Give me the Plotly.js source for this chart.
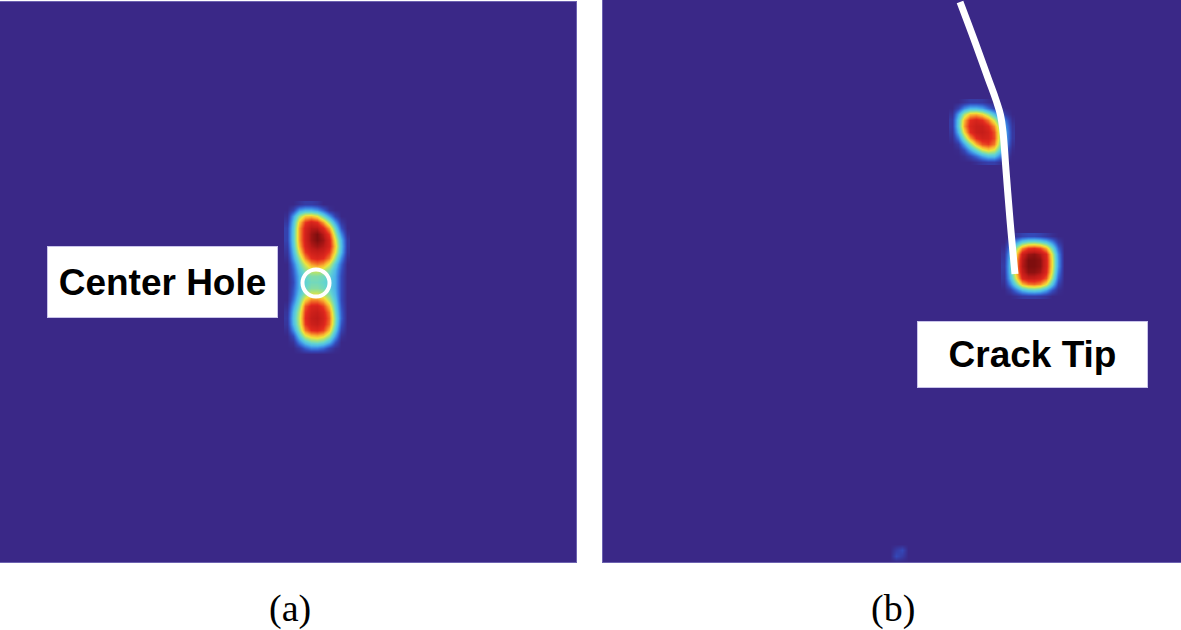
<!DOCTYPE html>
<html>
<head>
<meta charset="utf-8">
<script src="https://cdn.plot.ly/plotly-3.0.1.min.js"></script>
<style>html,body{margin:0;padding:0;background:#fff;}#chart{width:1181px;height:630px;}</style>
</head>
<body>
<div id="chart"></div>
<script>
// ---- Panel (a): centre-hole hotspot field (image pixel coordinates) ----
const aX = [287, 293, 299, 305, 311, 317, 323, 329, 335, 341, 347];
const aY = [204, 210, 216, 222, 228, 234, 240, 246, 252, 258, 264, 270, 276, 282, 288, 294, 300, 306, 312, 318, 324, 330, 336, 342, 348, 354];
const aZ = [
  [0, 0, 0.03, 0.06, 0.06, 0.04, 0, 0, 0, 0, 0],
  [0, 0.08, 0.25, 0.3, 0.3, 0.25, 0.15, 0.03, 0, 0, 0],
  [0.02, 0.25, 0.48, 0.62, 0.64, 0.58, 0.42, 0.25, 0.08, 0, 0],
  [0.05, 0.32, 0.62, 0.8, 0.86, 0.82, 0.68, 0.48, 0.25, 0.05, 0],
  [0.08, 0.35, 0.68, 0.86, 0.93, 0.93, 0.84, 0.68, 0.4, 0.12, 0],
  [0.08, 0.36, 0.68, 0.87, 0.96, 1.0, 0.93, 0.8, 0.5, 0.22, 0.02],
  [0.08, 0.36, 0.68, 0.87, 0.96, 1.0, 0.96, 0.86, 0.58, 0.3, 0.05],
  [0.06, 0.34, 0.65, 0.85, 0.93, 0.96, 0.93, 0.86, 0.62, 0.32, 0.05],
  [0.04, 0.3, 0.58, 0.8, 0.88, 0.9, 0.88, 0.8, 0.58, 0.3, 0.04],
  [0.02, 0.25, 0.48, 0.7, 0.82, 0.85, 0.82, 0.72, 0.48, 0.22, 0.02],
  [0, 0.18, 0.4, 0.56, 0.68, 0.72, 0.68, 0.56, 0.36, 0.15, 0],
  [0, 0.14, 0.34, 0.46, 0.54, 0.56, 0.52, 0.44, 0.3, 0.12, 0],
  [0, 0.12, 0.3, 0.4, 0.44, 0.44, 0.42, 0.38, 0.28, 0.1, 0],
  [0, 0.1, 0.3, 0.38, 0.42, 0.42, 0.4, 0.36, 0.28, 0.1, 0],
  [0, 0.12, 0.3, 0.4, 0.45, 0.45, 0.42, 0.38, 0.28, 0.1, 0],
  [0, 0.14, 0.34, 0.48, 0.56, 0.56, 0.52, 0.44, 0.3, 0.1, 0],
  [0, 0.18, 0.4, 0.62, 0.72, 0.72, 0.66, 0.52, 0.34, 0.1, 0],
  [0.02, 0.25, 0.46, 0.76, 0.85, 0.86, 0.79, 0.64, 0.38, 0.12, 0],
  [0.04, 0.3, 0.52, 0.8, 0.88, 0.9, 0.85, 0.72, 0.42, 0.14, 0],
  [0.05, 0.32, 0.54, 0.82, 0.9, 0.92, 0.87, 0.75, 0.45, 0.15, 0],
  [0.04, 0.3, 0.52, 0.8, 0.88, 0.9, 0.85, 0.73, 0.43, 0.12, 0],
  [0.02, 0.22, 0.46, 0.72, 0.82, 0.84, 0.79, 0.64, 0.36, 0.08, 0],
  [0, 0.1, 0.34, 0.54, 0.62, 0.64, 0.6, 0.48, 0.25, 0.03, 0],
  [0, 0.03, 0.2, 0.34, 0.42, 0.44, 0.4, 0.3, 0.12, 0, 0],
  [0, 0, 0.05, 0.14, 0.2, 0.2, 0.16, 0.08, 0.02, 0, 0],
  [0, 0, 0, 0, 0, 0, 0, 0, 0, 0, 0]
];
const holeX = [316];
const holeY = [283];

// ---- Panel (b): crack hotspots ----
const bUpX = [952, 958, 964, 970, 976, 982, 988, 994, 1000, 1006, 1012];
const bUpY = [102, 108, 114, 120, 126, 132, 138, 144, 150, 156, 162];
const bUpZ = [
  [0, 0, 0.03, 0.06, 0.06, 0.05, 0.02, 0, 0, 0, 0],
  [0, 0.08, 0.22, 0.3, 0.3, 0.26, 0.16, 0.07, 0.02, 0, 0],
  [0.03, 0.26, 0.5, 0.64, 0.66, 0.6, 0.48, 0.32, 0.16, 0.05, 0],
  [0.06, 0.35, 0.65, 0.82, 0.86, 0.82, 0.72, 0.55, 0.34, 0.16, 0.02],
  [0.06, 0.36, 0.68, 0.85, 0.89, 0.89, 0.83, 0.7, 0.45, 0.22, 0.04],
  [0.04, 0.3, 0.6, 0.82, 0.89, 0.9, 0.87, 0.77, 0.5, 0.25, 0.05],
  [0.02, 0.18, 0.45, 0.68, 0.82, 0.87, 0.86, 0.78, 0.5, 0.25, 0.05],
  [0, 0.06, 0.26, 0.46, 0.65, 0.77, 0.8, 0.72, 0.46, 0.22, 0.03],
  [0, 0.01, 0.1, 0.26, 0.4, 0.54, 0.6, 0.55, 0.36, 0.14, 0.01],
  [0, 0, 0.02, 0.08, 0.16, 0.26, 0.33, 0.33, 0.2, 0.06, 0],
  [0, 0, 0, 0, 0.02, 0.05, 0.07, 0.07, 0.03, 0, 0]
];
const bTipX = [1004, 1010, 1016, 1022, 1028, 1034, 1040, 1046, 1052, 1058, 1064];
const bTipY = [236, 242, 248, 254, 260, 266, 272, 278, 284, 290, 296];
const bTipZ = [
  [0, 0, 0.04, 0.08, 0.1, 0.1, 0.08, 0.05, 0.02, 0, 0],
  [0, 0.1, 0.25, 0.38, 0.44, 0.45, 0.42, 0.35, 0.22, 0.06, 0],
  [0.02, 0.22, 0.48, 0.7, 0.8, 0.82, 0.78, 0.66, 0.42, 0.15, 0],
  [0.04, 0.3, 0.6, 0.88, 0.96, 0.98, 0.94, 0.84, 0.55, 0.22, 0],
  [0.05, 0.34, 0.66, 0.92, 1.0, 1.0, 0.98, 0.86, 0.58, 0.24, 0],
  [0.06, 0.35, 0.68, 0.93, 1.0, 1.0, 0.98, 0.86, 0.58, 0.24, 0],
  [0.05, 0.34, 0.65, 0.9, 0.98, 0.98, 0.95, 0.84, 0.55, 0.2, 0],
  [0.04, 0.3, 0.58, 0.84, 0.9, 0.9, 0.86, 0.76, 0.48, 0.15, 0],
  [0.02, 0.2, 0.42, 0.64, 0.72, 0.74, 0.7, 0.58, 0.34, 0.08, 0],
  [0, 0.06, 0.18, 0.3, 0.36, 0.38, 0.35, 0.26, 0.12, 0.02, 0],
  [0, 0, 0.02, 0.05, 0.06, 0.06, 0.05, 0.03, 0, 0, 0]
];
const bSpotX = [890, 896, 902, 908];
const bSpotY = [544, 550, 556, 562];
const bSpotZ = [
  [0, 0, 0, 0],
  [0, 0.06, 0.1, 0],
  [0, 0.1, 0.06, 0],
  [0, 0, 0, 0]
];
const crackX = [960, 975, 988, 996, 1000.5, 1003, 1006, 1010, 1015];
const crackY = [2, 42, 78, 100, 115, 132, 170, 220, 274];

const panelLabels = ['(a)', '(b)'];
const boxLabels = ['Center Hole', 'Crack Tip'];

const bg = '#3A2887';
const cs = [
  [0, bg], [0.1, '#3448B8'], [0.2, '#3A7FE0'], [0.3, '#4DB8E8'], [0.4, '#66D6CC'],
  [0.5, '#A8E27A'], [0.58, '#EEE43C'], [0.66, '#F9B030'], [0.74, '#F06A24'],
  [0.82, '#E32A1E'], [0.92, '#BE1A18'], [1, '#7E0E0E']
];

function hm(x, y, z, xa, ya) {
  return {type: 'heatmap', x: x, y: y, z: z, xaxis: xa, yaxis: ya, colorscale: cs,
    zmin: 0, zmax: 1, zsmooth: 'best', showscale: false, hoverinfo: 'skip'};
}

const traces = [
  hm(aX, aY, aZ, 'x', 'y'),
  {type: 'scatter', mode: 'markers', x: holeX, y: holeY, xaxis: 'x', yaxis: 'y',
   marker: {symbol: 'circle-open', size: 27, color: 'white', line: {width: 4, color: 'white'}}, hoverinfo: 'skip'},
  hm(bUpX, bUpY, bUpZ, 'x2', 'y2'),
  hm(bTipX, bTipY, bTipZ, 'x2', 'y2'),
  hm(bSpotX, bSpotY, bSpotZ, 'x2', 'y2'),
  {type: 'scatter', mode: 'lines', x: crackX, y: crackY, xaxis: 'x2', yaxis: 'y2',
   line: {color: 'white', width: 7, shape: 'spline', smoothing: 1.2}, hoverinfo: 'skip'}
];

const ax = {showgrid: false, zeroline: false, showticklabels: false, ticks: '', fixedrange: true,
  showline: true, mirror: true, linecolor: '#6c62b0', linewidth: 1};
const W = 1181, H = 630;
const layout = {
  width: W, height: H, margin: {l: 0, r: 0, t: 0, b: 0},
  paper_bgcolor: 'white', plot_bgcolor: bg, showlegend: false,
  xaxis: Object.assign({}, ax, {domain: [0, 576 / W], range: [0, 576]}),
  yaxis: Object.assign({}, ax, {domain: [68 / H, 628 / H], range: [562, 2]}),
  xaxis2: Object.assign({}, ax, {domain: [603 / W, 1], range: [603, 1181], anchor: 'y2'}),
  yaxis2: Object.assign({}, ax, {domain: [68 / H, 1], range: [562, 0], anchor: 'x2'}),
  annotations: [
    {text: boxLabels[0], xref: 'x', yref: 'y', x: 162.5, y: 282, showarrow: false,
     width: 229, height: 70, bgcolor: 'white', bordercolor: '#c9c4ea', borderwidth: 1, borderpad: 0,
     font: {family: 'Liberation Sans, Arial, sans-serif', size: 37, color: '#000', weight: 700}},
    {text: boxLabels[1], xref: 'x2', yref: 'y2', x: 1032.5, y: 354.5, showarrow: false,
     width: 229, height: 65, bgcolor: 'white', bordercolor: '#c9c4ea', borderwidth: 1, borderpad: 0,
     font: {family: 'Liberation Sans, Arial, sans-serif', size: 37, color: '#000', weight: 700}},
    {text: panelLabels[0], xref: 'paper', yref: 'paper', x: 290 / W, y: 1 - 608 / H, showarrow: false,
     xanchor: 'center', yanchor: 'middle',
     font: {family: 'Liberation Serif, Times New Roman, serif', size: 38, color: '#000'}},
    {text: panelLabels[1], xref: 'paper', yref: 'paper', x: 893 / W, y: 1 - 608 / H, showarrow: false,
     xanchor: 'center', yanchor: 'middle',
     font: {family: 'Liberation Serif, Times New Roman, serif', size: 38, color: '#000'}}
  ]
};

Plotly.newPlot('chart', traces, layout, {displayModeBar: false, staticPlot: true});
</script>
</body>
</html>
